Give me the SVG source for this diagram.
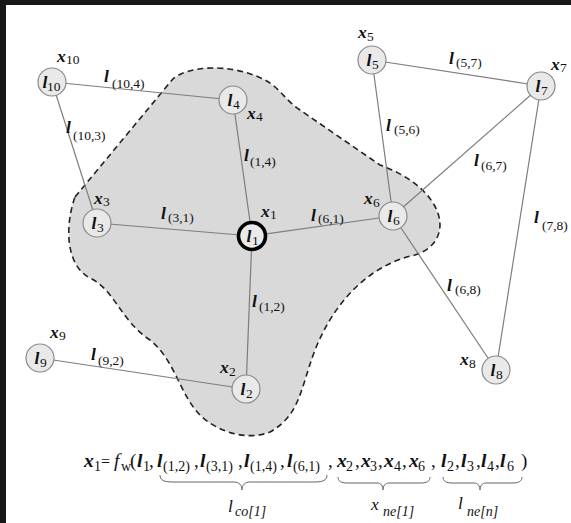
<svg xmlns="http://www.w3.org/2000/svg" width="571" height="523" viewBox="0 0 571 523">
<style>
.edge{stroke:#7d7d7d;stroke-width:1.2;fill:none}
.node{fill:#e9e9e9;stroke:#8a8a8a;stroke-width:1.2}
.main{fill:#e9e9e9;stroke:#000;stroke-width:3.6}
.region{fill:#d9d9d9;stroke:#222;stroke-width:1.6;stroke-dasharray:6,4}
.brace{fill:none;stroke:#666;stroke-width:1}
text{font-family:"Liberation Serif","Times New Roman",serif;fill:#111}
.v{font-style:italic;font-weight:bold;font-size:17.5px}
.s{font-style:normal;font-weight:normal;font-size:13.5px}
.fv{font-style:italic;font-weight:bold;font-size:19.5px}
.fs{font-style:normal;font-weight:normal;font-size:14px}
.r{font-style:normal;font-weight:normal;font-size:19px}
.eq{font-style:normal;font-weight:normal;font-size:16px}
.i{font-style:italic;font-weight:normal;font-size:19.5px}
.bi{font-style:italic;font-weight:normal;font-size:17.5px}
.si{font-style:italic;font-weight:normal;font-size:14px}
</style>
<rect x="0" y="0" width="571" height="523" fill="#fff"/>
<rect x="0" y="0" width="571" height="5" fill="#181818"/>
<rect x="0" y="0" width="6" height="523" fill="#181818"/>
<path class="region" d="M 75,197 L 172,80 C 185,66 230,62 265,80 C 280,88 285,100 300,110 L 380,165 C 448,190 456,242 415,255 C 370,265 335,300 315,350 C 300,390 300,415 270,432 C 245,442 215,430 200,415 C 180,395 175,360 150,340 C 120,320 115,290 90,278 C 65,265 65,225 75,197 Z"/>
<g id="connectors">
<line class="edge" x1="52" y1="82" x2="233" y2="100"/>
<line class="edge" x1="52" y1="82" x2="97" y2="223"/>
<line class="edge" x1="233" y1="100" x2="252" y2="236"/>
<line class="edge" x1="97" y1="223" x2="252" y2="236"/>
<line class="edge" x1="252" y1="236" x2="393" y2="216"/>
<line class="edge" x1="252" y1="236" x2="246" y2="389"/>
<line class="edge" x1="40" y1="358" x2="246" y2="389"/>
<line class="edge" x1="372" y1="60" x2="393" y2="216"/>
<line class="edge" x1="372" y1="60" x2="541" y2="86"/>
<line class="edge" x1="393" y1="216" x2="541" y2="86"/>
<line class="edge" x1="541" y1="86" x2="496" y2="370"/>
<line class="edge" x1="393" y1="216" x2="496" y2="370"/>
</g>
<g id="edge-labels">
<text><tspan class="v" x="104" y="82">l</tspan><tspan class="s" x="112" y="88">(10,4)</tspan></text>
<text><tspan class="v" x="66" y="133">l</tspan><tspan class="s" x="73" y="140">(10,3)</tspan></text>
<text><tspan class="v" x="244" y="161">l</tspan><tspan class="s" x="250" y="166">(1,4)</tspan></text>
<text><tspan class="v" x="449" y="64">l</tspan><tspan class="s" x="456" y="67">(5,7)</tspan></text>
<text><tspan class="v" x="386" y="131">l</tspan><tspan class="s" x="394" y="134">(5,6)</tspan></text>
<text><tspan class="v" x="474" y="166">l</tspan><tspan class="s" x="481" y="170">(6,7)</tspan></text>
<text><tspan class="v" x="311" y="221">l</tspan><tspan class="s" x="318" y="223">(6,1)</tspan></text>
<text><tspan class="v" x="534" y="223">l</tspan><tspan class="s" x="542" y="230">(7,8)</tspan></text>
<text><tspan class="v" x="161" y="219">l</tspan><tspan class="s" x="168" y="222">(3,1)</tspan></text>
<text><tspan class="v" x="252" y="307">l</tspan><tspan class="s" x="259" y="311">(1,2)</tspan></text>
<text><tspan class="v" x="447" y="291">l</tspan><tspan class="s" x="455" y="294">(6,8)</tspan></text>
<text><tspan class="v" x="91" y="360">l</tspan><tspan class="s" x="98" y="365">(9,2)</tspan></text>
</g>
<g id="n10"><circle class="node" cx="52" cy="82" r="14"/><text><tspan class="v" x="42.5" y="88">l</tspan><tspan class="s" x="47" y="91">10</tspan></text><text><tspan class="v" x="57" y="62">x</tspan><tspan class="s" x="66" y="64">10</tspan></text></g>
<g id="n4"><circle class="node" cx="233" cy="100" r="14"/><text><tspan class="v" x="227.5" y="106">l</tspan><tspan class="s" x="233" y="109">4</tspan></text><text><tspan class="v" x="247" y="119">x</tspan><tspan class="s" x="256" y="121">4</tspan></text></g>
<g id="n5"><circle class="node" cx="372" cy="60" r="14"/><text><tspan class="v" x="366.5" y="66">l</tspan><tspan class="s" x="372" y="69">5</tspan></text><text><tspan class="v" x="358" y="38">x</tspan><tspan class="s" x="367" y="41">5</tspan></text></g>
<g id="n7"><circle class="node" cx="541" cy="86" r="14"/><text><tspan class="v" x="535.5" y="92">l</tspan><tspan class="s" x="541" y="95">7</tspan></text><text><tspan class="v" x="551" y="70">x</tspan><tspan class="s" x="560" y="72">7</tspan></text></g>
<g id="n3"><circle class="node" cx="97" cy="223" r="14"/><text><tspan class="v" x="91.5" y="229">l</tspan><tspan class="s" x="97" y="232">3</tspan></text><text><tspan class="v" x="94" y="204">x</tspan><tspan class="s" x="103" y="206">3</tspan></text></g>
<g id="n1"><circle class="main" cx="252" cy="236" r="13.5"/><text><tspan class="v" x="246.5" y="242">l</tspan><tspan class="s" x="252" y="245">1</tspan></text><text><tspan class="v" x="261" y="217">x</tspan><tspan class="s" x="270" y="219">1</tspan></text></g>
<g id="n6"><circle class="node" cx="393" cy="216" r="14"/><text><tspan class="v" x="387.5" y="222">l</tspan><tspan class="s" x="393" y="225">6</tspan></text><text><tspan class="v" x="364" y="204">x</tspan><tspan class="s" x="373" y="207">6</tspan></text></g>
<g id="n9"><circle class="node" cx="40" cy="358" r="14"/><text><tspan class="v" x="34.5" y="364">l</tspan><tspan class="s" x="40" y="367">9</tspan></text><text><tspan class="v" x="50" y="338">x</tspan><tspan class="s" x="59" y="340">9</tspan></text></g>
<g id="n2"><circle class="node" cx="246" cy="389" r="14"/><text><tspan class="v" x="240.5" y="395">l</tspan><tspan class="s" x="246" y="398">2</tspan></text><text><tspan class="v" x="220" y="373">x</tspan><tspan class="s" x="229" y="376">2</tspan></text></g>
<g id="n8"><circle class="node" cx="496" cy="370" r="14"/><text><tspan class="v" x="490.5" y="376">l</tspan><tspan class="s" x="496" y="379">8</tspan></text><text><tspan class="v" x="460" y="365">x</tspan><tspan class="s" x="469" y="368">8</tspan></text></g>
<g id="formula">
<text><tspan class="fv" x="84" y="467">x</tspan><tspan class="fs" x="94" y="471">1</tspan><tspan class="eq" x="101" y="467">=</tspan><tspan class="i" x="114" y="467">f</tspan><tspan class="fs" x="121" y="471">w</tspan><tspan class="r" x="130" y="467">(</tspan><tspan class="fv" x="137" y="467">l</tspan><tspan class="fs" x="143" y="471">1</tspan><tspan class="r" x="149" y="467">,</tspan><tspan class="fv" x="157" y="467">l</tspan><tspan class="fs" x="163" y="471">(1,2)</tspan><tspan class="r" x="194" y="467">,</tspan><tspan class="fv" x="200" y="467">l</tspan><tspan class="fs" x="206" y="471">(3,1)</tspan><tspan class="r" x="238" y="467">,</tspan><tspan class="fv" x="244" y="467">l</tspan><tspan class="fs" x="250" y="471">(1,4)</tspan><tspan class="r" x="280" y="467">,</tspan><tspan class="fv" x="287" y="467">l</tspan><tspan class="fs" x="293" y="471">(6,1)</tspan><tspan class="r" x="328" y="467">,</tspan><tspan class="fv" x="337" y="467">x</tspan><tspan class="fs" x="346" y="471">2</tspan><tspan class="r" x="355" y="467">,</tspan><tspan class="fv" x="361" y="467">x</tspan><tspan class="fs" x="370" y="471">3</tspan><tspan class="r" x="378" y="467">,</tspan><tspan class="fv" x="384" y="467">x</tspan><tspan class="fs" x="394" y="471">4</tspan><tspan class="r" x="402" y="467">,</tspan><tspan class="fv" x="409" y="467">x</tspan><tspan class="fs" x="418" y="471">6</tspan><tspan class="r" x="431" y="467">,</tspan><tspan class="fv" x="441" y="467">l</tspan><tspan class="fs" x="447" y="471">2</tspan><tspan class="r" x="455" y="467">,</tspan><tspan class="fv" x="461" y="467">l</tspan><tspan class="fs" x="467" y="471">3</tspan><tspan class="r" x="476" y="467">,</tspan><tspan class="fv" x="481" y="467">l</tspan><tspan class="fs" x="487" y="471">4</tspan><tspan class="r" x="495" y="467">,</tspan><tspan class="fv" x="500" y="467">l</tspan><tspan class="fs" x="507" y="471">6</tspan><tspan class="r" x="521" y="467">)</tspan></text>
<path class="brace" d="M 160,475 C 160,480 164,482 172,482 L 234,482 C 239,482 242,485 242,490 C 242,485 245,482 250,482 L 315,482 C 323,482 327,480 327,475"/>
<path class="brace" d="M 338,477 C 338,481 341,483 347,483 L 377,483 C 381,483 383,486 383,490 C 383,486 385,483 389,483 L 421,483 C 427,483 430,481 430,477"/>
<path class="brace" d="M 443,477 C 443,481 446,483 452,483 L 474,483 C 478,483 480,486 480,490 C 480,486 482,483 486,483 L 513,483 C 519,483 522,481 522,477"/>
<text><tspan class="bi" x="228" y="512">l</tspan><tspan class="si" x="235" y="516">co[1]</tspan></text>
<text><tspan class="bi" x="371" y="510">x</tspan><tspan class="si" x="383" y="516">ne[1]</tspan></text>
<text><tspan class="bi" x="458" y="509">l</tspan><tspan class="si" x="467" y="516">ne[n]</tspan></text>
</g>
</svg>
